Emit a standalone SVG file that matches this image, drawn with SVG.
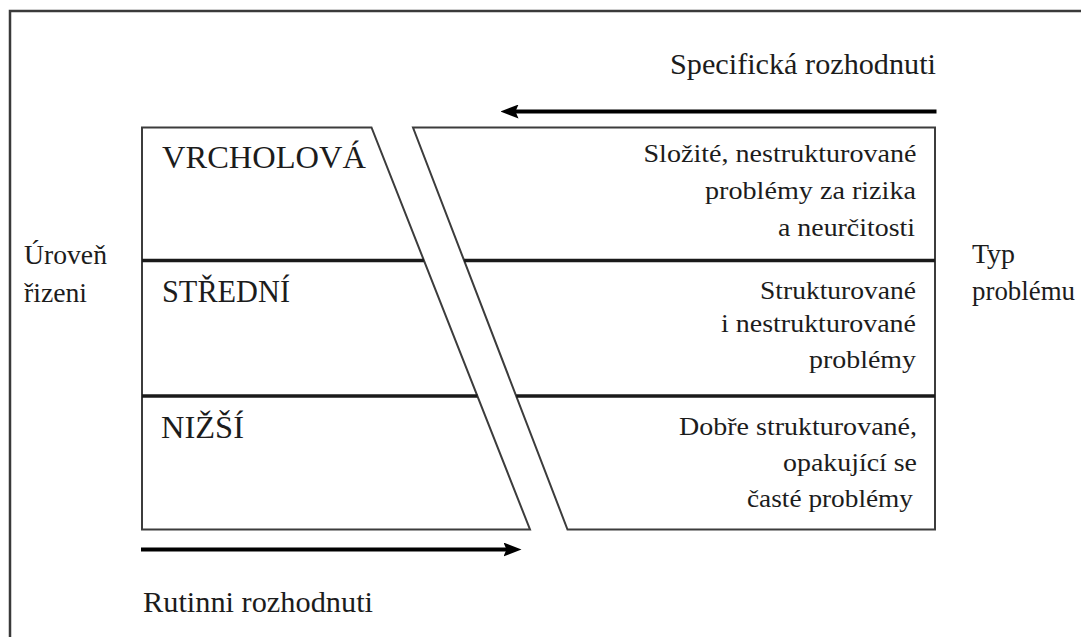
<svg xmlns="http://www.w3.org/2000/svg" width="1081" height="637" viewBox="0 0 1081 637">
  <defs>
    <style>
      .frame { fill: none; stroke: #3a3a3a; stroke-width: 2.5; }
      .block { fill: #ffffff; stroke: #3c3c3c; stroke-width: 2; stroke-linejoin: miter; }
      .divider { stroke: #1a1a1a; stroke-width: 3.5; }
      .arrow { stroke: #000000; stroke-width: 4; fill: none; }
      text { fill: #1c1c1c; font-family: "Liberation Serif", "DejaVu Serif", "Times New Roman", serif; }
      .level { font-size: 31px; }
      .axis { font-size: 27px; }
      .flow { font-size: 30px; }
      .desc { font-size: 26px; text-anchor: end; }
    </style>
    <marker id="head" markerUnits="userSpaceOnUse" viewBox="0 0 18 14" markerWidth="18" markerHeight="14" refX="8" refY="7" orient="auto">
      <path d="M0,0 L18,7 L0,14 L3,7 Z" fill="#000000"/>
    </marker>
  </defs>

  <rect x="0" y="0" width="1081" height="637" fill="#ffffff"/>

  <!-- outer border, open to the right and bottom -->
  <path class="frame" d="M10,640 V11 H1085"/>

  <!-- left trapezoid: management levels -->
  <g id="node-levels">
    <path class="block" d="M142,127.5 H371.5 L530,529.5 H142 Z"/>
    <line class="divider" x1="142" y1="260.5" x2="423.9" y2="260.5"/>
    <line class="divider" x1="142" y1="396" x2="477.4" y2="396"/>
    <text class="level" x="162" y="168" textLength="204" lengthAdjust="spacingAndGlyphs">VRCHOLOVÁ</text>
    <text class="level" x="162" y="301.5" textLength="128" lengthAdjust="spacingAndGlyphs">STŘEDNÍ</text>
    <text class="level" x="161" y="437.5" textLength="83" lengthAdjust="spacingAndGlyphs">NIŽŠÍ</text>
  </g>

  <!-- right trapezoid: problem types -->
  <g id="node-problems">
    <path class="block" d="M413,127.5 H935 V529.5 H567.5 Z"/>
    <line class="divider" x1="464.1" y1="260.5" x2="935" y2="260.5"/>
    <line class="divider" x1="516.2" y1="396" x2="935" y2="396"/>
    <text class="desc" x="916.5" y="162" textLength="273" lengthAdjust="spacingAndGlyphs">Složité, nestrukturované</text>
    <text class="desc" x="916" y="198.5" textLength="211" lengthAdjust="spacingAndGlyphs">problémy za rizika</text>
    <text class="desc" x="915" y="236" textLength="137" lengthAdjust="spacingAndGlyphs">a neurčitosti</text>
    <text class="desc" x="916" y="298.5" textLength="156" lengthAdjust="spacingAndGlyphs">Strukturované</text>
    <text class="desc" x="916" y="332" textLength="195" lengthAdjust="spacingAndGlyphs">i nestrukturované</text>
    <text class="desc" x="916" y="368" textLength="107" lengthAdjust="spacingAndGlyphs">problémy</text>
    <text class="desc" x="917" y="435" textLength="238" lengthAdjust="spacingAndGlyphs">Dobře strukturované,</text>
    <text class="desc" x="917" y="471" textLength="134" lengthAdjust="spacingAndGlyphs">opakující se</text>
    <text class="desc" x="913" y="507" textLength="166" lengthAdjust="spacingAndGlyphs">časté problémy</text>
  </g>

  <!-- side captions -->
  <g id="label-level">
    <text class="axis" x="24" y="264" textLength="83" lengthAdjust="spacingAndGlyphs">Úroveň</text>
    <text class="axis" x="24" y="301.5" textLength="63" lengthAdjust="spacingAndGlyphs">řizeni</text>
  </g>
  <g id="label-type">
    <text class="axis" x="972" y="263" textLength="43" lengthAdjust="spacingAndGlyphs">Typ</text>
    <text class="axis" x="972" y="300" textLength="103" lengthAdjust="spacingAndGlyphs">problému</text>
  </g>

  <g id="label-specific">
    <text class="flow" x="670" y="74" textLength="266" lengthAdjust="spacingAndGlyphs">Specifická rozhodnuti</text>
  </g>
  <g id="label-routine">
    <text class="flow" x="143" y="611.5" textLength="230" lengthAdjust="spacingAndGlyphs">Rutinni rozhodnuti</text>
  </g>

  <!-- direction arrows -->
  <g id="connectors">
    <line class="arrow" x1="936.5" y1="111.5" x2="510.5" y2="111.5" marker-end="url(#head)"/>
    <line class="arrow" x1="141" y1="549.5" x2="511.5" y2="549.5" marker-end="url(#head)"/>
  </g>
</svg>
